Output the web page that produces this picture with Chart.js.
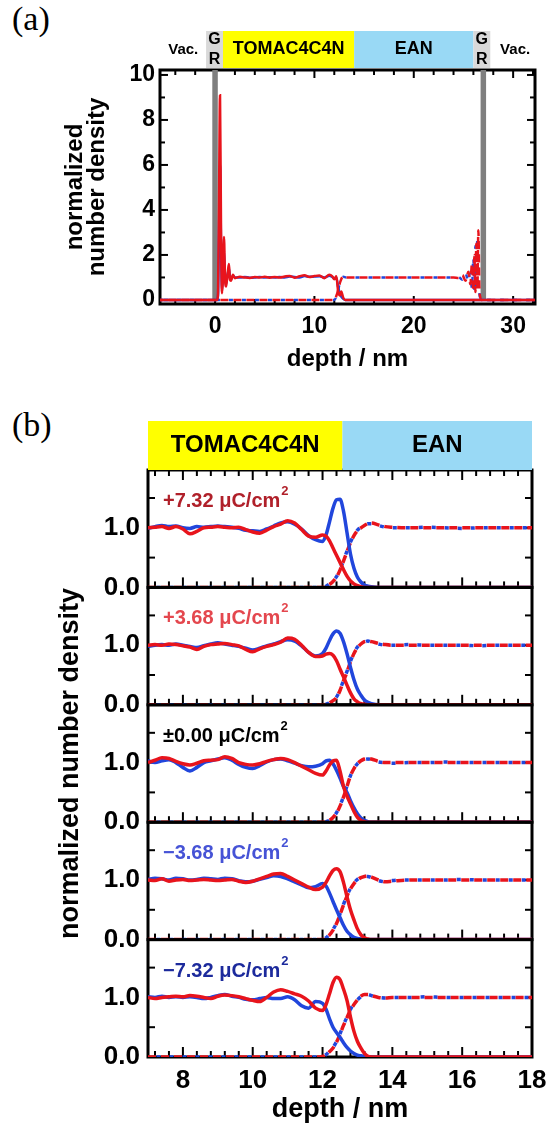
<!DOCTYPE html>
<html>
<head>
<meta charset="utf-8">
<script src="https://cdn.jsdelivr.net/npm/chart.js"></script>
<style>
    html, body { margin: 0; padding: 0; background: #fff; }
    body { width: 547px; height: 1128px; position: relative; overflow: hidden; }
    canvas { position: absolute; left: 0; }
    .tag { position: absolute; left: 12px; font-family: "Liberation Serif", "Times New Roman", serif; font-size: 34px; line-height: 34px; }
</style>
</head>
<body>
<div class="tag" style="top:2px">(a)</div>
<div class="tag" style="top:408px">(b)</div>
<canvas id="chartA" width="547" height="400" style="top:0"></canvas>
<canvas id="chartB1" width="547" height="728" style="top:400px"></canvas>
<canvas id="chartB2" width="547" height="728" style="top:400px"></canvas>
<canvas id="chartB3" width="547" height="728" style="top:400px"></canvas>
<canvas id="chartB4" width="547" height="728" style="top:400px"></canvas>
<canvas id="chartB5" width="547" height="728" style="top:400px"></canvas>
<script>
// ---- (a) 全体プロファイル ----
const aXTicks = [0, 10, 20, 30];
const aYTicks = [0, 2, 4, 6, 8, 10];

// TOMAC4C4N (実線)
const aSolidDepth = [-6, 0.2, 0.3, 0.4, 0.5, 0.6, 0.7, 0.8, 0.9, 1.0, 1.1, 1.2, 1.3, 1.4, 1.5, 1.6, 1.8, 2.0, 2.5, 3.0,
    3.5, 4.0, 4.5, 5.0, 5.5, 6.0, 6.5, 7.0, 7.5, 8.0, 8.5, 9.0, 9.5, 10.0, 10.5, 11.0, 11.5, 11.8, 12.0, 12.2,
    12.4, 12.55, 12.7, 12.9, 13.1, 33];
const aTomacRed = [0, 0, 0.3, 4.5, 9.1, 3.2, 0.3, 1.0, 2.8, 1.0, 0.6, 0.9, 1.3, 1.6, 0.9, 0.85, 1.12, 0.97, 1.03, 1.0,
    0.98, 1.02, 1.0, 1.03, 0.99, 1.02, 1.0, 1.04, 1.07, 0.99, 1.05, 1.10, 1.02, 1.06, 1.09, 0.97, 1.12, 1.05, 0.92, 1.05,
    0.35, 0.2, 0.38, 0.1, 0, 0];
const aTomacBlue = [0, 0, 0.2, 3.0, 6.0, 2.5, 0.4, 1.2, 2.2, 1.0, 0.7, 1.0, 1.2, 1.4, 1.0, 0.9, 1.08, 1.0, 1.0, 1.02,
    0.99, 1.0, 1.02, 1.0, 1.01, 1.0, 1.02, 1.0, 1.04, 1.02, 1.0, 1.06, 1.03, 1.04, 1.05, 1.0, 1.08, 1.02, 0.95, 1.0,
    0.55, 0.3, 0.15, 0.05, 0, 0];

// EAN (破線)
const aEanDepth = [-6, 12.0, 12.3, 12.6, 12.9, 13.2, 15, 18, 21, 24, 24.5, 24.9, 25.2, 25.5, 25.7, 25.85, 26.0, 26.1, 26.2, 26.3,
    26.4, 26.5, 26.6, 26.7, 26.8, 33];
const aEanRed = [0, 0, 0.3, 0.8, 1.05, 1.0, 1.0, 1.0, 1.0, 1.0, 0.98, 1.1, 0.85, 1.25, 0.7, 1.6, 0.4, 2.0, 0.35, 2.5,
    0.5, 3.1, 0.6, 0.1, 0, 0];
const aEanBlue = [0, 0, 0.28, 0.82, 1.03, 1.0, 1.0, 1.0, 1.0, 1.0, 1.02, 0.9, 1.2, 0.8, 1.45, 0.5, 1.9, 0.3, 2.4, 0.45,
    2.8, 0.8, 0.3, 0.05, 0, 0];

// グラフェン電極 (軸の上端を超える)
const aGraphenePos = [0, 27];
const aGrapheneDensity = [0, 12];

// 上部の領域バー
const aBandFrom = [-0.9, 0.8, 14.0, 26.0];
const aBandTo = [0.8, 14.0, 26.0, 27.7];
const aBandLabels = ['G\nR', 'TOMAC4C4N', 'EAN', 'G\nR'];
const aVacPos = [-3.2, 30.2];

// ---- (b) 界面付近の拡大 ----
const bXTicks = [8, 10, 12, 14, 16, 18];
const bYTicks = [0, 1];
const bCharges = ['+7.32', '+3.68', '±0.00', '−3.68', '−7.32'];

const bDepth = [7.0, 7.2, 7.4, 7.6, 7.8, 8.0, 8.2, 8.4, 8.6, 8.8,
    9.0, 9.2, 9.4, 9.6, 9.8, 10.0, 10.2, 10.4, 10.6, 10.8,
    11.0, 11.2, 11.4, 11.6, 11.8, 12.0, 12.1, 12.2, 12.3, 12.4,
    12.5, 12.6, 12.7, 12.8, 12.9, 13.0, 13.1, 13.2, 13.3, 13.4,
    13.6, 13.8, 14.0, 14.5, 15.0, 15.5, 16.0, 16.5, 17.0, 17.5, 18.0];

// +7.32 μC/cm2
const redPos732 = [1.00, 1.01, 1.02, 0.99, 1.02, 0.98, 0.90, 0.94, 1.00, 1.01,
    1.02, 1.01, 1.00, 1.01, 0.97, 0.93, 0.91, 0.96, 1.02, 1.06,
    1.12, 1.08, 0.97, 0.86, 0.84, 0.88, 0.86, 0.78, 0.66, 0.54,
    0.42, 0.30, 0.19, 0.11, 0.06, 0.03, 0.01, 0, 0, 0,
    0, 0, 0, 0, 0, 0, 0, 0, 0, 0, 0];
const bluePos732 = [0.99, 1.02, 1.04, 1.02, 1.03, 1.00, 0.99, 1.02, 1.01, 1.02,
    1.03, 1.02, 1.01, 0.99, 0.96, 0.95, 0.94, 0.98, 1.03, 1.08,
    1.10, 1.06, 0.98, 0.87, 0.80, 0.77, 0.88, 1.10, 1.33, 1.47,
    1.48, 1.28, 0.92, 0.56, 0.32, 0.17, 0.09, 0.04, 0.02, 0.01,
    0, 0, 0, 0, 0, 0, 0, 0, 0, 0, 0];
const eanRedPos732 = [0, 0, 0, 0, 0, 0, 0, 0, 0, 0, 0, 0, 0, 0, 0, 0, 0, 0, 0, 0, 0, 0, 0, 0, 0,
    0, 0.02, 0.05, 0.10, 0.17, 0.29, 0.44, 0.60, 0.75, 0.87, 0.95, 1.00, 1.04, 1.07, 1.08,
    1.05, 1.02, 1.01, 1.00, 1.00, 1.00, 1.00, 1.00, 1.00, 1.00, 1.00];
const eanBluePos732 = [0, 0, 0, 0, 0, 0, 0, 0, 0, 0, 0, 0, 0, 0, 0, 0, 0, 0, 0, 0, 0, 0, 0, 0, 0,
    0, 0.02, 0.06, 0.11, 0.18, 0.30, 0.45, 0.61, 0.76, 0.88, 0.96, 1.01, 1.05, 1.07, 1.07,
    1.04, 1.01, 1.00, 1.00, 1.01, 1.00, 0.99, 1.00, 1.00, 1.00, 1.00];

// +3.68 μC/cm2
const redPos368 = [1.00, 1.01, 1.00, 1.02, 1.01, 0.99, 0.97, 0.93, 0.98, 1.01,
    1.02, 1.03, 1.01, 0.99, 0.93, 0.89, 0.94, 0.98, 1.01, 1.05,
    1.12, 1.10, 1.00, 0.88, 0.81, 0.82, 0.85, 0.86, 0.83, 0.74,
    0.60, 0.47, 0.33, 0.20, 0.10, 0.05, 0.02, 0.01, 0, 0,
    0, 0, 0, 0, 0, 0, 0, 0, 0, 0, 0];
const bluePos368 = [0.98, 1.00, 1.01, 1.00, 1.02, 1.00, 0.98, 0.96, 0.99, 1.02,
    1.04, 1.02, 1.00, 0.98, 0.95, 0.92, 0.95, 0.99, 1.02, 1.06,
    1.09, 1.07, 0.99, 0.88, 0.82, 0.86, 0.95, 1.08, 1.19, 1.24,
    1.20, 1.06, 0.86, 0.63, 0.42, 0.26, 0.16, 0.08, 0.04, 0.02,
    0, 0, 0, 0, 0, 0, 0, 0, 0, 0, 0];
const eanRedPos368 = [0, 0, 0, 0, 0, 0, 0, 0, 0, 0, 0, 0, 0, 0, 0, 0, 0, 0, 0, 0, 0, 0, 0, 0, 0,
    0, 0.01, 0.03, 0.07, 0.12, 0.24, 0.40, 0.55, 0.72, 0.86, 0.96, 1.02, 1.06, 1.07, 1.06,
    1.03, 1.01, 1.00, 1.00, 1.00, 1.00, 1.00, 1.00, 1.00, 1.00, 1.00];
const eanBluePos368 = [0, 0, 0, 0, 0, 0, 0, 0, 0, 0, 0, 0, 0, 0, 0, 0, 0, 0, 0, 0, 0, 0, 0, 0, 0,
    0, 0.01, 0.03, 0.08, 0.13, 0.25, 0.41, 0.56, 0.73, 0.87, 0.97, 1.02, 1.05, 1.07, 1.05,
    1.02, 1.00, 1.00, 1.01, 1.00, 1.00, 1.00, 0.99, 1.00, 1.00, 1.00];

// ±0.00 μC/cm2
const redZero = [1.00, 1.04, 1.08, 1.07, 1.02, 0.98, 0.96, 0.99, 1.03, 1.04,
    1.05, 1.10, 1.07, 1.00, 0.97, 0.96, 0.98, 1.02, 1.05, 1.07,
    1.05, 1.00, 0.94, 0.88, 0.82, 0.79, 0.86, 0.96, 1.03, 1.04,
    0.86, 0.60, 0.44, 0.31, 0.18, 0.08, 0.03, 0.01, 0, 0,
    0, 0, 0, 0, 0, 0, 0, 0, 0, 0, 0];
const blueZero = [1.03, 1.00, 1.03, 1.05, 1.00, 0.92, 0.86, 0.92, 1.00, 1.03,
    1.06, 1.08, 1.04, 0.97, 0.92, 0.90, 0.95, 1.01, 1.05, 1.06,
    1.03, 0.99, 0.95, 0.93, 0.94, 0.98, 1.03, 1.04, 0.98, 0.87,
    0.74, 0.60, 0.50, 0.36, 0.24, 0.14, 0.07, 0.03, 0.01, 0,
    0, 0, 0, 0, 0, 0, 0, 0, 0, 0, 0];
const eanRedZero = [0, 0, 0, 0, 0, 0, 0, 0, 0, 0, 0, 0, 0, 0, 0, 0, 0, 0, 0, 0, 0, 0, 0, 0, 0,
    0, 0.01, 0.03, 0.08, 0.15, 0.27, 0.42, 0.60, 0.78, 0.90, 0.98, 1.03, 1.06, 1.07, 1.06,
    1.02, 1.00, 1.00, 1.00, 1.00, 1.00, 1.00, 1.00, 1.00, 1.00, 1.00];
const eanBlueZero = [0, 0, 0, 0, 0, 0, 0, 0, 0, 0, 0, 0, 0, 0, 0, 0, 0, 0, 0, 0, 0, 0, 0, 0, 0,
    0, 0.01, 0.03, 0.08, 0.16, 0.28, 0.43, 0.61, 0.78, 0.90, 0.98, 1.02, 1.05, 1.06, 1.05,
    1.01, 1.00, 0.99, 1.00, 1.00, 1.01, 1.00, 1.00, 1.00, 1.00, 1.00];

// −3.68 μC/cm2
const redNeg368 = [1.00, 0.99, 1.02, 0.98, 1.00, 1.01, 0.99, 1.00, 1.01, 1.00,
    0.99, 1.00, 1.01, 0.98, 0.96, 0.98, 1.02, 1.06, 1.10, 1.11,
    1.06, 1.00, 0.94, 0.88, 0.84, 0.88, 0.96, 1.07, 1.16, 1.19,
    1.14, 0.96, 0.72, 0.50, 0.33, 0.18, 0.08, 0.03, 0.01, 0,
    0, 0, 0, 0, 0, 0, 0, 0, 0, 0, 0];
const blueNeg368 = [1.01, 1.03, 1.02, 1.00, 1.03, 1.02, 1.00, 1.01, 1.03, 1.02,
    1.01, 1.03, 1.02, 0.99, 0.97, 0.98, 1.01, 1.04, 1.07, 1.06,
    1.02, 0.97, 0.92, 0.87, 0.89, 0.94, 0.90, 0.78, 0.64, 0.50,
    0.37, 0.24, 0.14, 0.08, 0.04, 0.02, 0.01, 0, 0, 0,
    0, 0, 0, 0, 0, 0, 0, 0, 0, 0, 0];
const eanRedNeg368 = [0, 0, 0, 0, 0, 0, 0, 0, 0, 0, 0, 0, 0, 0, 0, 0, 0, 0, 0, 0, 0, 0, 0, 0, 0,
    0, 0.03, 0.08, 0.16, 0.27, 0.42, 0.58, 0.73, 0.85, 0.94, 1.00, 1.04, 1.06, 1.07, 1.05,
    1.00, 0.97, 0.98, 1.00, 1.00, 1.00, 1.00, 1.00, 1.00, 1.00, 1.00];
const eanBlueNeg368 = [0, 0, 0, 0, 0, 0, 0, 0, 0, 0, 0, 0, 0, 0, 0, 0, 0, 0, 0, 0, 0, 0, 0, 0, 0,
    0, 0.03, 0.09, 0.17, 0.28, 0.43, 0.59, 0.74, 0.86, 0.95, 1.01, 1.04, 1.06, 1.06, 1.04,
    0.99, 0.97, 0.99, 1.00, 1.00, 1.00, 1.01, 1.00, 1.00, 1.00, 1.00];

// −7.32 μC/cm2
const redNeg732 = [1.00, 0.98, 1.00, 1.01, 1.02, 1.01, 1.03, 1.02, 1.00, 0.98,
    1.02, 1.04, 1.03, 1.01, 0.98, 0.95, 0.93, 1.00, 1.09, 1.13,
    1.10, 1.06, 1.02, 0.94, 0.82, 0.78, 0.88, 1.06, 1.25, 1.34,
    1.30, 1.14, 0.95, 0.67, 0.43, 0.26, 0.15, 0.06, 0.01, 0,
    0, 0, 0, 0, 0, 0, 0, 0, 0, 0, 0];
const blueNeg732 = [1.01, 1.00, 1.02, 1.00, 1.01, 1.00, 1.01, 1.00, 0.98, 1.00,
    1.03, 1.05, 1.02, 1.00, 0.97, 0.96, 0.98, 1.00, 0.98, 0.98,
    1.01, 0.96, 0.86, 0.82, 0.93, 0.90, 0.80, 0.64, 0.50, 0.41,
    0.33, 0.24, 0.16, 0.10, 0.06, 0.03, 0.02, 0.01, 0, 0,
    0, 0, 0, 0, 0, 0, 0, 0, 0, 0, 0];
const eanRedNeg732 = [0, 0, 0, 0, 0, 0, 0, 0, 0, 0, 0, 0, 0, 0, 0, 0, 0, 0, 0, 0, 0, 0, 0, 0, 0,
    0.01, 0.04, 0.09, 0.15, 0.25, 0.38, 0.53, 0.66, 0.79, 0.88, 0.96, 1.02, 1.05, 1.05, 1.03,
    1.00, 0.99, 1.00, 1.00, 1.00, 1.00, 1.00, 1.00, 1.00, 1.00, 1.00];
const eanBlueNeg732 = [0, 0, 0, 0, 0, 0, 0, 0, 0, 0, 0, 0, 0, 0, 0, 0, 0, 0, 0, 0, 0, 0, 0, 0, 0,
    0.01, 0.04, 0.10, 0.16, 0.26, 0.39, 0.54, 0.67, 0.80, 0.89, 0.96, 1.01, 1.04, 1.05, 1.03,
    1.00, 0.99, 1.00, 1.00, 1.01, 1.00, 1.00, 1.00, 1.00, 1.00, 1.00];

const bRed = [redPos732, redPos368, redZero, redNeg368, redNeg732];
const bBlue = [bluePos732, bluePos368, blueZero, blueNeg368, blueNeg732];
const bEanRed = [eanRedPos732, eanRedPos368, eanRedZero, eanRedNeg368, eanRedNeg732];
const bEanBlue = [eanBluePos732, eanBluePos368, eanBlueZero, eanBlueNeg368, eanBlueNeg732];

const bBandFrom = [7, 12.57];
const bBandTo = [12.57, 18];
const bBandLabels = ['TOMAC4C4N', 'EAN'];

// ---- スタイル ----
const FONT = '"Liberation Sans", Arial, Helvetica, sans-serif';
const RED = '#e8141c';
const BLUE = '#2146dc';
const GREY = '#7f7f7f';
const CHARGE_COLORS = ['#b0202a', '#e4474e', '#000000', '#4653d6', '#1c2a9c'];
// 破線: 赤の隙間に短い青を入れる
const DASH_RED = [8, 5];
const DASH_BLUE = [4, 9];
const DASH_BLUE_OFFSET = 4.5;

Chart.defaults.font.family = FONT;
Chart.defaults.font.weight = 'bold';
Chart.defaults.color = '#000';

function fontOf(size, lineHeight) {
    return { family: FONT, size: size, weight: 'bold', lineHeight: lineHeight || 1.2 };
}

function curve(xs, ys, color, width, dash, dashOffset) {
    return {
        data: xs.map((x, i) => ({ x: x, y: ys[i] })),
        borderColor: color,
        borderWidth: width,
        borderDash: dash || [],
        borderDashOffset: dashOffset || 0,
        pointRadius: 0,
        fill: false,
        cubicInterpolationMode: 'monotone'
    };
}

function fixedTicks(list) {
    return scale => { scale.ticks = list.map(v => ({ value: v })); };
}

// 枠線と内向きの目盛り
const frameTicks = {
    id: 'frameTicks',
    beforeDatasetsDraw(chart, args, o) {
        if (!o.xMinor) return;
        const { ctx, chartArea: a, scales: { x, y } } = chart;
        const line = (x1, y1, x2, y2) => { ctx.beginPath(); ctx.moveTo(x1, y1); ctx.lineTo(x2, y2); ctx.stroke(); };
        const steps = (min, max, step) => {
            const out = [];
            for (let i = Math.ceil(min / step - 1e-9); i * step <= max + 1e-9; i++) out.push(i * step);
            return out;
        };
        const isMajor = (list, v) => list.some(m => Math.abs(m - v) < 1e-6);
        ctx.save();
        ctx.strokeStyle = '#000';
        ctx.lineWidth = o.tickWidth;
        steps(x.min, x.max, o.xMinor).forEach(v => {
            const len = isMajor(o.xMajor, v) ? o.majorLen : o.minorLen;
            const px = x.getPixelForValue(v);
            line(px, a.bottom, px, a.bottom - len);
            if (o.topTicks) line(px, a.top, px, a.top + len);
        });
        steps(y.min, y.max, o.yMinor).forEach(v => {
            const len = isMajor(o.yMajor, v) ? o.majorLen : o.yMinorLen;
            const py = y.getPixelForValue(v);
            line(a.left, py, a.left + len, py);
            line(a.right, py, a.right - len, py);
        });
        ctx.lineWidth = o.frameWidth;
        ctx.strokeRect(a.left, a.top, a.right - a.left, a.bottom - a.top);
        ctx.restore();
    }
};

// グラフ上部の領域バー
const bandHeader = {
    id: 'bandHeader',
    afterDraw(chart, args, o) {
        if (!o.from) return;
        const { ctx, chartArea: a, scales: { x } } = chart;
        const bottom = a.top - o.gap;
        const top = bottom - o.height;
        const cy = (top + bottom) / 2;
        ctx.save();
        ctx.textAlign = 'center';
        ctx.textBaseline = 'middle';
        o.from.forEach((f, i) => {
            const x1 = x.getPixelForValue(f);
            const x2 = x.getPixelForValue(o.to[i]);
            ctx.fillStyle = o.colors[i];
            ctx.fillRect(x1, top, x2 - x1, bottom - top);
            ctx.fillStyle = '#000';
            const lines = o.labels[i].split('\n');
            const size = lines.length > 1 ? o.smallSize : o.size;
            ctx.font = `bold ${size}px ${FONT}`;
            lines.forEach((t, j) => {
                ctx.fillText(t, (x1 + x2) / 2, cy + (j - (lines.length - 1) / 2) * o.lineGap);
            });
        });
        if (o.marks) {
            ctx.font = `bold ${o.markSize}px ${FONT}`;
            o.marks.forEach(m => ctx.fillText(o.markText, x.getPixelForValue(m), cy));
        }
        ctx.restore();
    }
};

// 表面電荷密度のラベル
const chargeLabel = {
    id: 'chargeLabel',
    afterDatasetsDraw(chart, args, o) {
        if (!o.text) return;
        const { ctx, chartArea: a } = chart;
        const x0 = a.left + 15;
        const y0 = a.top + 37;
        ctx.save();
        ctx.fillStyle = o.color;
        ctx.textAlign = 'left';
        ctx.textBaseline = 'alphabetic';
        ctx.font = `bold 20px ${FONT}`;
        ctx.fillText(o.text, x0, y0);
        const w = ctx.measureText(o.text).width;
        ctx.font = `bold 13px ${FONT}`;
        ctx.fillText('2', x0 + w + 1, y0 - 12);
        ctx.restore();
    }
};

Chart.register(frameTicks, bandHeader, chargeLabel);

// (a) のグラフ
new Chart(document.getElementById('chartA'), {
    type: 'line',
    data: {
        datasets: [
            curve(aSolidDepth, aTomacRed, RED, 2.5),
            curve(aSolidDepth, aTomacBlue, BLUE, 2.5),
            curve(aEanDepth, aEanRed, RED, 2.5, DASH_RED),
            curve(aEanDepth, aEanBlue, BLUE, 2.5, DASH_BLUE, DASH_BLUE_OFFSET),
            ...aGraphenePos.map(p => ({
                data: aGrapheneDensity.map(v => ({ x: p, y: v })),
                borderColor: GREY, borderWidth: 5.5, pointRadius: 0, tension: 0, fill: false
            }))
        ]
    },
    options: {
        responsive: false,
        animation: false,
        events: [],
        layout: { padding: { left: 0, right: 12, top: 70, bottom: 26 } },
        plugins: {
            legend: { display: false },
            tooltip: { enabled: false },
            frameTicks: {
                xMinor: 2, xMajor: aXTicks, yMinor: 1, yMajor: aYTicks,
                majorLen: 8, minorLen: 5, yMinorLen: 5, topTicks: true, tickWidth: 2, frameWidth: 3
            },
            bandHeader: {
                from: aBandFrom, to: aBandTo, labels: aBandLabels,
                colors: ['#d9d9d9', '#ffff00', '#99d9f5', '#d9d9d9'],
                gap: 2, height: 37, size: 18, smallSize: 16, lineGap: 20,
                marks: aVacPos, markText: 'Vac.', markSize: 15
            }
        },
        scales: {
            x: {
                type: 'linear', min: -5.54, max: 32.2,
                afterBuildTicks: fixedTicks(aXTicks),
                afterFit: s => { s.height = 70; },
                grid: { display: false, drawTicks: true, tickLength: 9 },
                border: { display: false },
                ticks: { padding: 0, autoSkip: false, maxRotation: 0, font: fontOf(23), callback: v => v },
                title: { display: true, text: 'depth / nm', font: fontOf(24), padding: 0 }
            },
            y: {
                type: 'linear', min: -0.18, max: 10.22,
                afterBuildTicks: fixedTicks(aYTicks),
                afterFit: s => { s.width = 160; },
                grid: { display: false, drawTicks: true, tickLength: 5 },
                border: { display: false },
                ticks: { padding: 0, font: fontOf(23), callback: v => v },
                title: {
                    display: true, text: ['normalized', 'number density'],
                    font: fontOf(24, 0.92), padding: { top: 64, bottom: 0 }
                }
            }
        }
    }
});

// (b) 5段の拡大グラフ
function buildPanel(k) {
    const top = 70 + k * 117.4;
    const bottom = top + 117.4;
    const last = k === bCharges.length - 1;
    const axisH = last ? 69 : 0;
    new Chart(document.getElementById('chartB' + (k + 1)), {
        type: 'line',
        data: {
            datasets: [
                curve(bDepth, bRed[k], RED, 3.5),
                curve(bDepth, bBlue[k], BLUE, 3.5),
                curve(bDepth, bEanRed[k], RED, 3.5, DASH_RED),
                curve(bDepth, bEanBlue[k], BLUE, 3.5, DASH_BLUE, DASH_BLUE_OFFSET)
            ]
        },
        options: {
            responsive: false,
            animation: false,
            events: [],
            layout: { padding: { left: 0, right: 15, top: top, bottom: 728 - bottom - axisH } },
            plugins: {
                legend: { display: false },
                tooltip: { enabled: false },
                frameTicks: {
                    xMinor: 0.4, xMajor: bXTicks, yMinor: 0.5, yMajor: [],
                    majorLen: 10, minorLen: 6, yMinorLen: 7, topTicks: k === 0, tickWidth: 2, frameWidth: 3
                },
                bandHeader: k === 0 ? {
                    from: bBandFrom, to: bBandTo, labels: bBandLabels,
                    colors: ['#ffff00', '#99d9f5'],
                    gap: 0, height: 49, size: 24, smallSize: 24, lineGap: 0
                } : {},
                chargeLabel: { text: bCharges[k] + ' μC/cm', color: CHARGE_COLORS[k] }
            },
            scales: {
                x: {
                    type: 'linear', min: 7, max: 18, display: last,
                    afterBuildTicks: fixedTicks(bXTicks),
                    afterFit: s => { s.height = axisH; },
                    grid: { display: false, drawTicks: true, tickLength: 8 },
                    border: { display: false },
                    ticks: { padding: 0, autoSkip: false, maxRotation: 0, font: fontOf(26), callback: v => v },
                    title: { display: true, text: 'depth / nm', font: fontOf(27), padding: 0 }
                },
                y: {
                    type: 'linear', min: 0, max: 1.97,
                    afterBuildTicks: fixedTicks(bYTicks),
                    afterFit: s => { s.width = 148; },
                    grid: { display: false, drawTicks: true, tickLength: 8 },
                    border: { display: false },
                    ticks: { padding: 0, font: fontOf(26), callback: v => v.toFixed(1) },
                    title: {
                        display: k === 2, text: 'normalized number density',
                        font: fontOf(27), padding: { top: 54, bottom: 0 }
                    }
                }
            }
        }
    });
}

bCharges.forEach((c, k) => buildPanel(k));
</script>
</body>
</html>
